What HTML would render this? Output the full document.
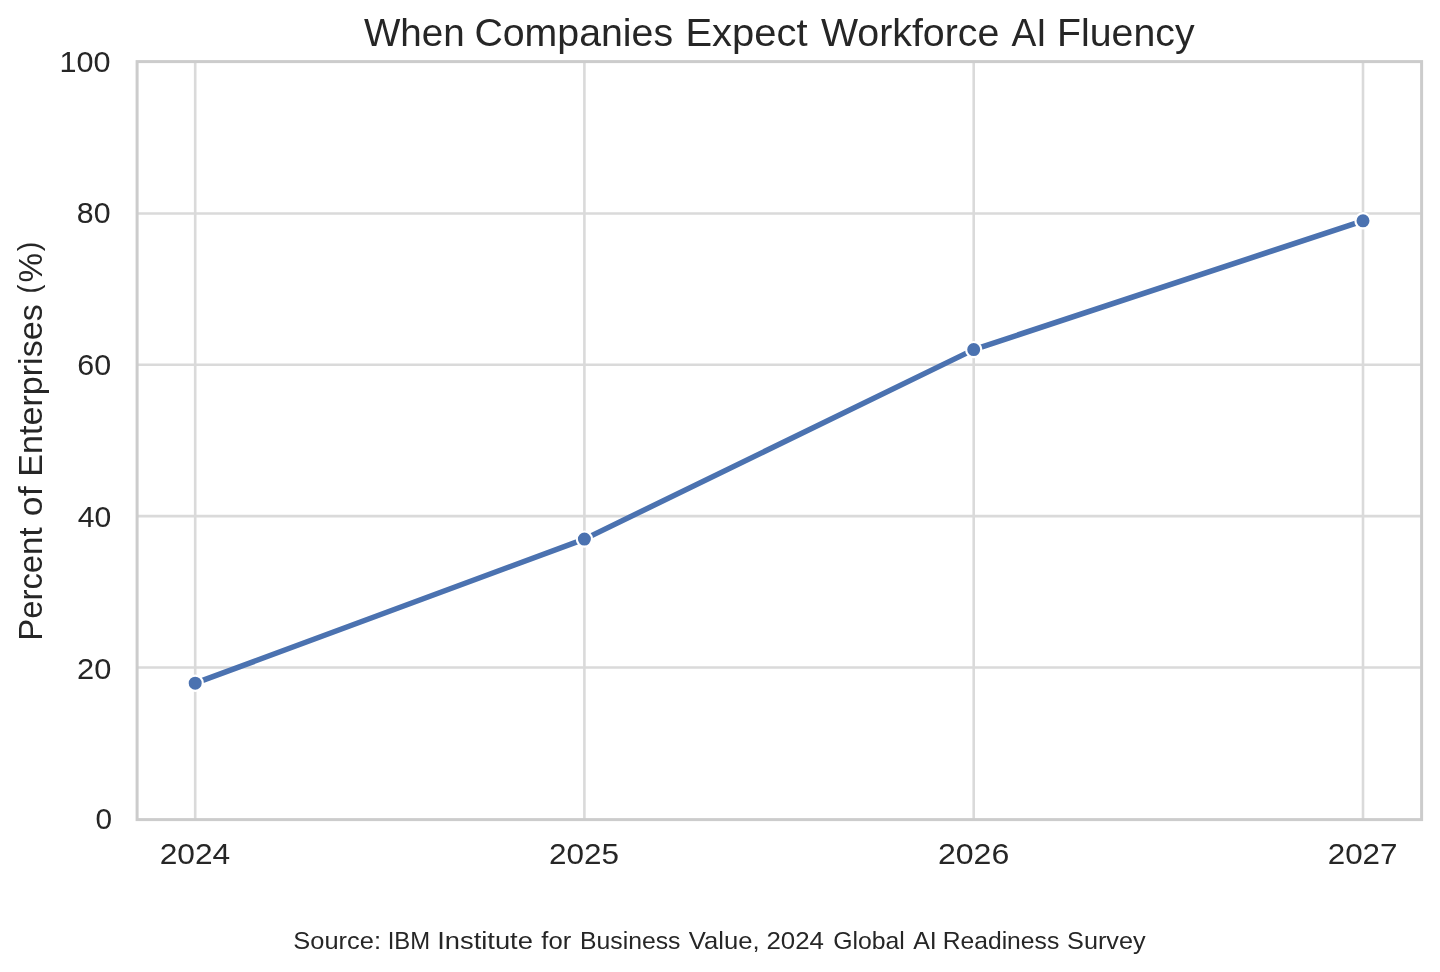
<!DOCTYPE html>
<html>
<head>
<meta charset="utf-8">
<title>When Companies Expect Workforce AI Fluency</title>
<style>
html,body{margin:0;padding:0;background:#ffffff;}
body{width:1440px;height:972px;overflow:hidden;font-family:"Liberation Sans",sans-serif;}
svg{display:block;}
text{font-family:"Liberation Sans",sans-serif;fill:#262626;}
</style>
</head>
<body>
<svg width="1440" height="972" viewBox="0 0 1440 972">
<defs><filter id="soft" x="0" y="0" width="1440" height="972" filterUnits="userSpaceOnUse"><feGaussianBlur stdDeviation="0.5"/></filter></defs>
<rect x="0" y="0" width="1440" height="972" fill="#ffffff"/>
<g filter="url(#soft)">
<rect x="0" y="0" width="1440" height="972" fill="#ffffff"/>
<g stroke="#dadada" stroke-width="2.6" fill="none">
<line x1="195.2" y1="61.6" x2="195.2" y2="819.6"/>
<line x1="584.4" y1="61.6" x2="584.4" y2="819.6"/>
<line x1="973.7" y1="61.6" x2="973.7" y2="819.6"/>
<line x1="1363.0" y1="61.6" x2="1363.0" y2="819.6"/>
<line x1="137.1" y1="667.55" x2="1421.6" y2="667.55"/>
<line x1="137.1" y1="516.1" x2="1421.6" y2="516.1"/>
<line x1="137.1" y1="364.7" x2="1421.6" y2="364.7"/>
<line x1="137.1" y1="213.55" x2="1421.6" y2="213.55"/>
</g>
<polyline points="195.2,683.2 584.4,539.1 973.7,349.6 1363.0,220.8" fill="none" stroke="#4c72b0" stroke-width="5.5" stroke-linejoin="round" stroke-linecap="round"/>
<g fill="#4c72b0" stroke="#ffffff" stroke-width="2.2">
<circle cx="195.2" cy="683.2" r="7.6"/>
<circle cx="584.4" cy="539.1" r="7.6"/>
<circle cx="973.7" cy="349.6" r="7.6"/>
<circle cx="1363.0" cy="220.8" r="7.6"/>
</g>
<rect x="137.1" y="61.6" width="1284.5" height="758.0" fill="none" stroke="#cccccc" stroke-width="3.0"/>
<text id="t0" x="363.96" y="46.1" font-size="39.5" textLength="100.76" lengthAdjust="spacingAndGlyphs">When</text>
<text id="t1" x="474.42" y="46.1" font-size="39.5" textLength="198.68" lengthAdjust="spacingAndGlyphs">Companies</text>
<text id="t2" x="685.41" y="46.1" font-size="39.5" textLength="122.11" lengthAdjust="spacingAndGlyphs">Expect</text>
<text id="t3" x="820.96" y="46.1" font-size="39.5" textLength="178.36" lengthAdjust="spacingAndGlyphs">Workforce</text>
<text id="t4" x="1011.41" y="46.1" font-size="39.5" textLength="35.18" lengthAdjust="spacingAndGlyphs">AI</text>
<text id="t5" x="1057.11" y="46.1" font-size="39.5" textLength="137.39" lengthAdjust="spacingAndGlyphs">Fluency</text>
<text id="s0" x="293.38" y="948.9" font-size="24.6" textLength="87.61" lengthAdjust="spacingAndGlyphs">Source:</text>
<text id="s1" x="387.70" y="948.9" font-size="24.6" textLength="42.41" lengthAdjust="spacingAndGlyphs">IBM</text>
<text id="s2" x="437.16" y="948.9" font-size="24.6" textLength="95.78" lengthAdjust="spacingAndGlyphs">Institute</text>
<text id="s3" x="541.38" y="948.9" font-size="24.6" textLength="29.92" lengthAdjust="spacingAndGlyphs">for</text>
<text id="s4" x="580.02" y="948.9" font-size="24.6" textLength="100.48" lengthAdjust="spacingAndGlyphs">Business</text>
<text id="s5" x="688.77" y="948.9" font-size="24.6" textLength="70.75" lengthAdjust="spacingAndGlyphs">Value,</text>
<text id="s6" x="766.43" y="948.9" font-size="24.6" textLength="57.61" lengthAdjust="spacingAndGlyphs">2024</text>
<text id="s7" x="833.18" y="948.9" font-size="24.6" textLength="71.62" lengthAdjust="spacingAndGlyphs">Global</text>
<text id="s8" x="913.17" y="948.9" font-size="24.6" textLength="23.60" lengthAdjust="spacingAndGlyphs">AI</text>
<text id="s9" x="942.66" y="948.9" font-size="24.6" textLength="116.59" lengthAdjust="spacingAndGlyphs">Readiness</text>
<text id="s10" x="1067.10" y="948.9" font-size="24.6" textLength="78.51" lengthAdjust="spacingAndGlyphs">Survey</text>
<text id="x0" x="159.70" y="864.1" font-size="29.4" textLength="70.53" lengthAdjust="spacingAndGlyphs">2024</text>
<text id="x1" x="549.01" y="864.1" font-size="29.4" textLength="69.94" lengthAdjust="spacingAndGlyphs">2025</text>
<text id="x2" x="937.93" y="864.1" font-size="29.4" textLength="71.36" lengthAdjust="spacingAndGlyphs">2026</text>
<text id="x3" x="1327.70" y="864.1" font-size="29.4" textLength="69.79" lengthAdjust="spacingAndGlyphs">2027</text>
<text id="y100" x="59.54" y="71.5" font-size="29.4" textLength="51.08" lengthAdjust="spacingAndGlyphs">100</text>
<text id="y80" x="76.85" y="222.8" font-size="29.4" textLength="33.72" lengthAdjust="spacingAndGlyphs">80</text>
<text id="y60" x="77.29" y="375.1" font-size="29.4" textLength="33.84" lengthAdjust="spacingAndGlyphs">60</text>
<text id="y40" x="77.73" y="526.9" font-size="29.4" textLength="33.53" lengthAdjust="spacingAndGlyphs">40</text>
<text id="y20" x="77.04" y="678.5" font-size="29.4" textLength="34.28" lengthAdjust="spacingAndGlyphs">20</text>
<text id="y0" x="95.54" y="829.3" font-size="29.4" textLength="16.57" lengthAdjust="spacingAndGlyphs">0</text>
<text id="l0" transform="translate(41.5,640.74) rotate(-90)" font-size="33.0" textLength="113.28" lengthAdjust="spacingAndGlyphs">Percent</text>
<text id="l1" transform="translate(41.5,516.15) rotate(-90)" font-size="33.0" textLength="29.73" lengthAdjust="spacingAndGlyphs">of</text>
<text id="l2" transform="translate(41.5,476.75) rotate(-90)" font-size="33.0" textLength="172.50" lengthAdjust="spacingAndGlyphs">Enterprises</text>
<text id="l3" transform="translate(41.5,282.44) rotate(-90)" font-size="33.0" textLength="29.50" lengthAdjust="spacingAndGlyphs">%</text>
<text id="l4" transform="translate(39.0,293.45) rotate(-90)" font-size="30.0" textLength="8.94" lengthAdjust="spacingAndGlyphs">(</text>
<text id="l5" transform="translate(39.0,251.15) rotate(-90)" font-size="30.0" textLength="9.47" lengthAdjust="spacingAndGlyphs">)</text>
</g>
</svg>
</body>
</html>
